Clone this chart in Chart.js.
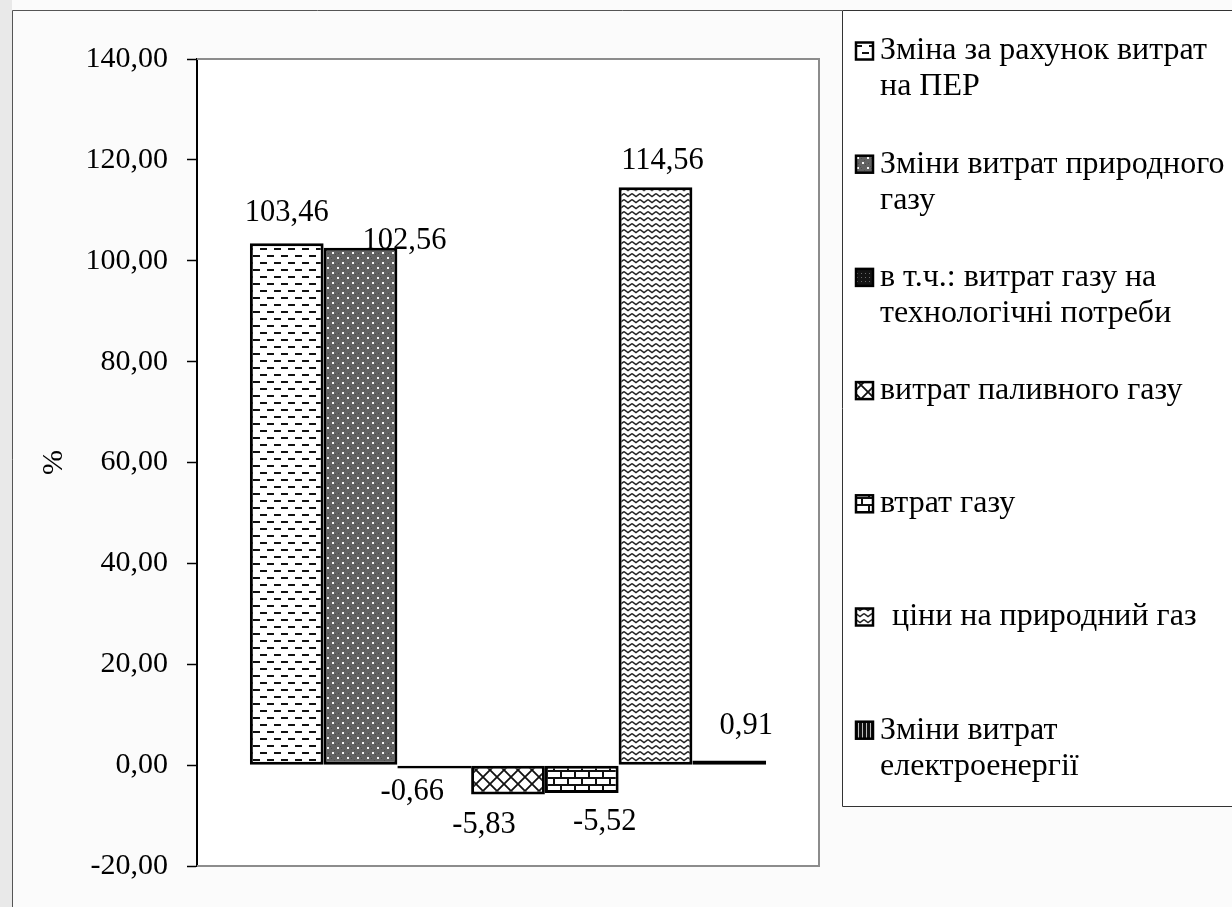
<!DOCTYPE html>
<html lang="uk">
<head>
<meta charset="utf-8">
<title>Фактори зміни витрат</title>
<script src="https://cdn.jsdelivr.net/npm/chart.js@4/dist/chart.umd.min.js"></script>
<style>
  html, body { margin: 0; padding: 0; background: #fbfbfb; }
  #wrap { position: relative; width: 1232px; height: 907px; }
  canvas { display: block; }
</style>
</head>
<body>
<div id="wrap"><canvas id="c" width="1232" height="907"></canvas></div>
<script>
// ---- data ----
const categories = [''];
const seriesNames = [
  ['Зміна за рахунок витрат', 'на ПЕР'],
  ['Зміни витрат природного', 'газу'],
  ['в т.ч.: витрат газу на', 'технологічні потреби'],
  ['витрат паливного газу'],
  ['втрат газу'],
  ['ціни на природний газ'],
  ['Зміни витрат', 'електроенергії']
];
const seriesValues = [103.46, 102.56, -0.66, -5.83, -5.52, 114.56, 0.91];
const yMin = -20;
const yMax = 140;
const yStep = 20;
const yTitle = '%';

// ---- helpers ----
const FONT_FAMILY = "'Liberation Serif', 'Times New Roman', serif";
const fmt = v => Number(v).toFixed(2).replace('.', ',');

const canvas = document.getElementById('c');
const ctx0 = canvas.getContext('2d');

function tile(w, h, draw) {
  const c = document.createElement('canvas');
  c.width = w; c.height = h;
  draw(c.getContext('2d'), w, h);
  return ctx0.createPattern(c, 'repeat');
}

// hatch fills, one per series
const fills = [
  // short staggered dashes
  tile(14, 14, g => {
    g.fillStyle = '#fff'; g.fillRect(0, 0, 14, 14);
    g.fillStyle = '#111';
    g.fillRect(1, 3, 7, 2);
    g.fillRect(8, 10, 6, 2); g.fillRect(0, 10, 1, 2);
  }),
  // dark grey stipple with white dots
  tile(10, 10, g => {
    g.fillStyle = '#626262'; g.fillRect(0, 0, 10, 10);
    g.fillStyle = '#4e4e4e';
    g.fillRect(4, 0, 1, 1); g.fillRect(0, 6, 1, 1); g.fillRect(8, 3, 1, 1);
    g.fillRect(5, 4, 1, 1); g.fillRect(1, 8, 1, 1);
    g.fillStyle = '#f4f4f4';
    g.fillRect(2, 2, 2, 2); g.fillRect(7, 7, 2, 2);
  }),
  // near-black with faint dots
  tile(4, 4, g => {
    g.fillStyle = '#141414'; g.fillRect(0, 0, 4, 4);
    g.fillStyle = '#6a6a6a'; g.fillRect(1, 1, 1, 1);
  }),
  // diagonal trellis
  tile(14, 14, g => {
    g.fillStyle = '#fff'; g.fillRect(0, 0, 14, 14);
    g.strokeStyle = '#111'; g.lineWidth = 1.8;
    g.beginPath();
    g.moveTo(-1, -1); g.lineTo(15, 15);
    g.moveTo(15, -1); g.lineTo(-1, 15);
    g.stroke();
  }),
  // brick
  tile(14, 14, g => {
    g.fillStyle = '#fff'; g.fillRect(0, 0, 14, 14);
    g.fillStyle = '#111';
    g.fillRect(0, 0, 14, 2);
    g.fillRect(0, 7, 14, 2);
    g.fillRect(0, 0, 2, 7);
    g.fillRect(7, 7, 2, 7);
  }),
  // horizontal zigzag waves
  tile(8, 6, g => {
    g.fillStyle = '#fff'; g.fillRect(0, 0, 8, 6);
    g.strokeStyle = '#222'; g.lineWidth = 1.5;
    g.beginPath();
    g.moveTo(0, 1.5); g.lineTo(4, 4.5); g.lineTo(8, 1.5);
    g.stroke();
  }),
  // vertical stripes
  tile(4, 4, g => {
    g.fillStyle = '#111'; g.fillRect(0, 0, 4, 4);
    g.fillStyle = '#bdbdbd'; g.fillRect(2, 0, 1, 4);
  })
];

// ---- plugins ----
const pageDecor = {
  id: 'pageDecor',
  beforeDraw(chart) {
    const { ctx, chartArea: a } = chart;
    ctx.save();
    ctx.fillStyle = '#fbfbfb';
    ctx.fillRect(0, 0, chart.width, chart.height);
    ctx.fillStyle = '#e9e9e9';
    ctx.fillRect(0, 0, 12, chart.height);
    ctx.fillStyle = '#ffffff';
    ctx.fillRect(a.left, a.top, a.right - a.left, a.bottom - a.top);
    ctx.restore();
  },
  afterDraw(chart) {
    const { ctx, chartArea: a } = chart;
    ctx.save();
    // plot frame (top, right, bottom)
    ctx.strokeStyle = '#8c8c8c';
    ctx.lineWidth = 2;
    ctx.beginPath();
    ctx.moveTo(a.left, a.top);
    ctx.lineTo(a.right, a.top);
    ctx.lineTo(a.right, a.bottom);
    ctx.lineTo(a.left, a.bottom);
    ctx.stroke();
    // outer chart border
    ctx.strokeStyle = '#555';
    ctx.lineWidth = 1;
    ctx.beginPath();
    ctx.moveTo(12.5, chart.height + 2);
    ctx.lineTo(12.5, 10.5);
    ctx.lineTo(chart.width + 2, 10.5);
    ctx.stroke();
    ctx.restore();
  }
};

const valueLabels = {
  id: 'valueLabels',
  afterDatasetsDraw(chart, args, opts) {
    const { ctx } = chart;
    ctx.save();
    ctx.font = opts.font;
    ctx.fillStyle = '#000';
    ctx.textAlign = 'center';
    ctx.textBaseline = 'alphabetic';
    chart.data.datasets.forEach((ds, i) => {
      const el = chart.getDatasetMeta(i).data[0];
      const [dx, dy] = opts.offsets[i];
      ctx.fillText(fmt(ds.data[0]), el.x + dx, el.y + dy);
    });
    ctx.restore();
  }
};

const sideLegend = {
  id: 'sideLegend',
  afterDraw(chart, args, opts) {
    const { ctx } = chart;
    const b = opts.box;
    ctx.save();
    ctx.fillStyle = '#ffffff';
    ctx.fillRect(b.x, b.y, chart.width - b.x + 2, b.bottom - b.y);
    ctx.strokeStyle = '#333';
    ctx.lineWidth = 1;
    ctx.beginPath();
    ctx.moveTo(chart.width + 2, b.y + 0.5);
    ctx.lineTo(b.x + 0.5, b.y + 0.5);
    ctx.lineTo(b.x + 0.5, b.bottom + 0.5);
    ctx.lineTo(chart.width + 2, b.bottom + 0.5);
    ctx.stroke();

    ctx.font = opts.font;
    ctx.textBaseline = 'middle';
    ctx.textAlign = 'left';
    chart.data.datasets.forEach((ds, i) => {
      const y0 = opts.firstY + i * opts.itemGap;
      const s = opts.swatch;
      ctx.fillStyle = ds.backgroundColor;
      ctx.fillRect(opts.swatchX, y0 - s / 2, s, s);
      ctx.strokeStyle = '#000';
      ctx.lineWidth = 2.5;
      ctx.strokeRect(opts.swatchX, y0 - s / 2, s, s);
      ctx.fillStyle = '#000';
      const tx = opts.textX + (opts.extraIndent[i] || 0);
      seriesNames[i].forEach((line, k) => {
        ctx.fillText(line, tx, y0 + k * opts.lineGap);
      });
    });
    ctx.restore();
  }
};

// ---- chart ----
const tickFont = { family: FONT_FAMILY, size: 30 };

new Chart(canvas, {
  type: 'bar',
  data: {
    labels: categories,
    datasets: seriesValues.map((v, i) => ({
      label: seriesNames[i].join(' '),
      data: [v],
      backgroundColor: fills[i],
      borderColor: '#000',
      borderWidth: 3,
      borderSkipped: false,
      categoryPercentage: 0.83,
      barPercentage: 1
    }))
  },
  options: {
    responsive: false,
    animation: false,
    devicePixelRatio: 1,
    layout: { padding: { left: 0, top: 59, right: 413, bottom: 41 } },
    plugins: {
      legend: { display: false },
      tooltip: { enabled: false },
      valueLabels: {
        font: `30.5px ${FONT_FAMILY}`,
        offsets: [[0, -22], [44, 1], [-22, 32], [-24, 38], [23, 37], [7, -18], [17, -27]]
      },
      sideLegend: {
        font: `32px ${FONT_FAMILY}`,
        box: { x: 842, y: 10, bottom: 806 },
        swatchX: 856,
        swatch: 17,
        textX: 880,
        extraIndent: [0, 0, 0, 0, 0, 12, 0],
        firstY: 51,
        itemGap: 113.2,
        lineGap: 36
      }
    },
    scales: {
      x: { display: false },
      y: {
        min: yMin,
        max: yMax,
        afterFit(scale) { scale.width = 197; },
        ticks: {
          stepSize: yStep,
          color: '#000',
          font: tickFont,
          padding: 19,
          callback: v => fmt(v)
        },
        grid: {
          display: true,
          drawOnChartArea: false,
          drawTicks: true,
          tickLength: 10,
          tickColor: '#000',
          tickWidth: 1.5
        },
        border: { display: true, color: '#000', width: 2 },
        title: {
          display: true,
          text: yTitle,
          color: '#000',
          font: tickFont,
          padding: { top: 36, bottom: 0 }
        }
      }
    }
  },
  plugins: [pageDecor, valueLabels, sideLegend]
});
</script>
</body>
</html>
